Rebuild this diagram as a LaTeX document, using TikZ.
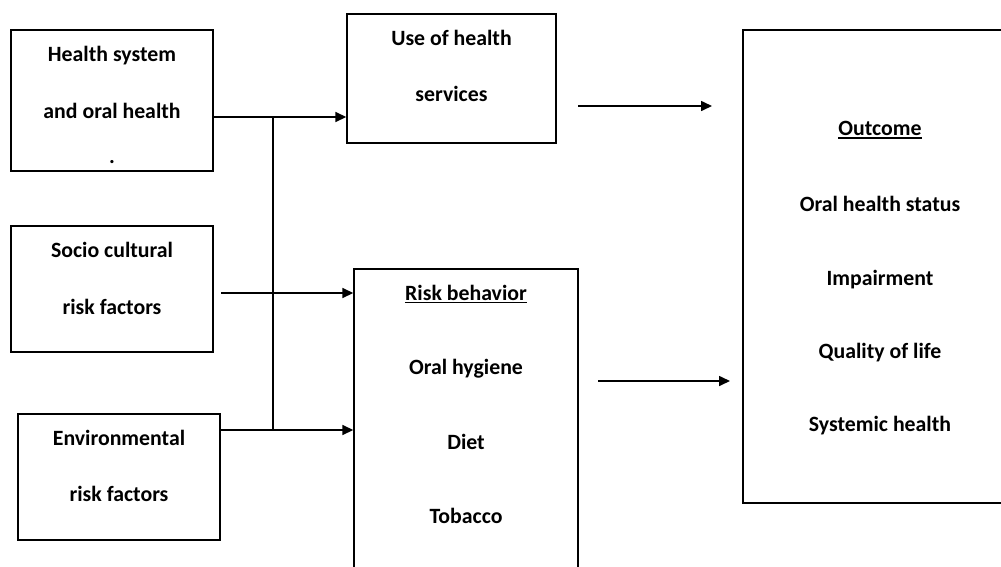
\documentclass[tikz,border=0pt]{standalone}
\usepackage{fontspec}
\setmainfont{Carlito}
\usetikzlibrary{arrows.meta}
\begin{document}
\begin{tikzpicture}[x=1pt,y=-1pt,
  box/.style={draw=black,line width=1.4pt,rectangle,inner sep=0pt},
  lbl/.style={anchor=base,inner sep=0pt,font=\fontsize{21.8}{26}\selectfont\bfseries},
  arr/.style={line width=1.6pt,-{Triangle[length=11pt,width=10pt]}},
  link/.style={line width=1.6pt},
  uline/.style={line width=1.3pt}]
\useasboundingbox (0,0) rectangle (1001,566);
\clip (0,0) rectangle (1001,566);

% boxes
\node[box,minimum width=202pt,minimum height=141pt] (hs)   at (112,100.5) {};
\node[box,minimum width=209pt,minimum height=129pt] (use)  at (451.5,78.5) {};
\node[box,minimum width=202pt,minimum height=126pt] (soc)  at (112,289) {};
\node[box,minimum width=202pt,minimum height=126pt] (env)  at (119,477) {};
\node[box,minimum width=224pt,minimum height=351pt] (risk) at (466,444.5) {};
\node[box,minimum width=278pt,minimum height=473pt] (out)  at (882,266.5) {};

% texts
\node[lbl] (hs1) at (112,61.5)  {Health system};
\node[lbl] (hs2) at (112,118.3) {and oral health};
\node[lbl] (hs3) at (112,163)   {.};
\node[lbl] (us1) at (451.5,45)  {Use of health};
\node[lbl] (us2) at (451.5,101.7) {services};
\node[lbl] (so1) at (112,257.3) {Socio cultural};
\node[lbl] (so2) at (112,314.3) {risk factors};
\node[lbl] (en1) at (119,445)   {Environmental};
\node[lbl] (en2) at (119,501.7) {risk factors};
\node[lbl] (rb0) at (466,300)   {Risk behavior};
\node[lbl] (rb1) at (466,374)   {Oral hygiene};
\node[lbl] (rb2) at (466,449)   {Diet};
\node[lbl] (rb3) at (466,523.3) {Tobacco};
\node[lbl] (oc0) at (880,135)   {Outcome};
\node[lbl] (oc1) at (880,211.7) {Oral health status};
\node[lbl] (oc2) at (880,285)   {Impairment};
\node[lbl] (oc3) at (880,358.3) {Quality of life};
\node[lbl] (oc4) at (880,431.7) {Systemic health};

% underlines of the headings (yshift is in page units, so negative means down)
\draw[uline] ([yshift=-2.6pt]rb0.base west) -- ([yshift=-2.6pt]rb0.base east);
\draw[uline] ([yshift=-3pt]oc0.base west) -- ([yshift=-3pt]oc0.base east);

% connectors
\coordinate (j1) at (273,117);
\coordinate (j2) at (273,430);
\coordinate (s0) at (221,293);
\coordinate (u0) at (578,106);
\coordinate (u1) at (712,106);
\coordinate (r0) at (598,381);
\coordinate (r1) at (730,381);

\draw[arr]  (hs.east |- j1) -- (use.west |- j1);
\draw[link] (j1) -- (j2);
\draw[arr]  (s0) -- (risk.west |- s0);
\draw[arr]  (env.east |- j2) -- (risk.west |- j2);
\draw[arr]  (u0) -- (u1);
\draw[arr]  (r0) -- (r1);
\end{tikzpicture}
\end{document}
